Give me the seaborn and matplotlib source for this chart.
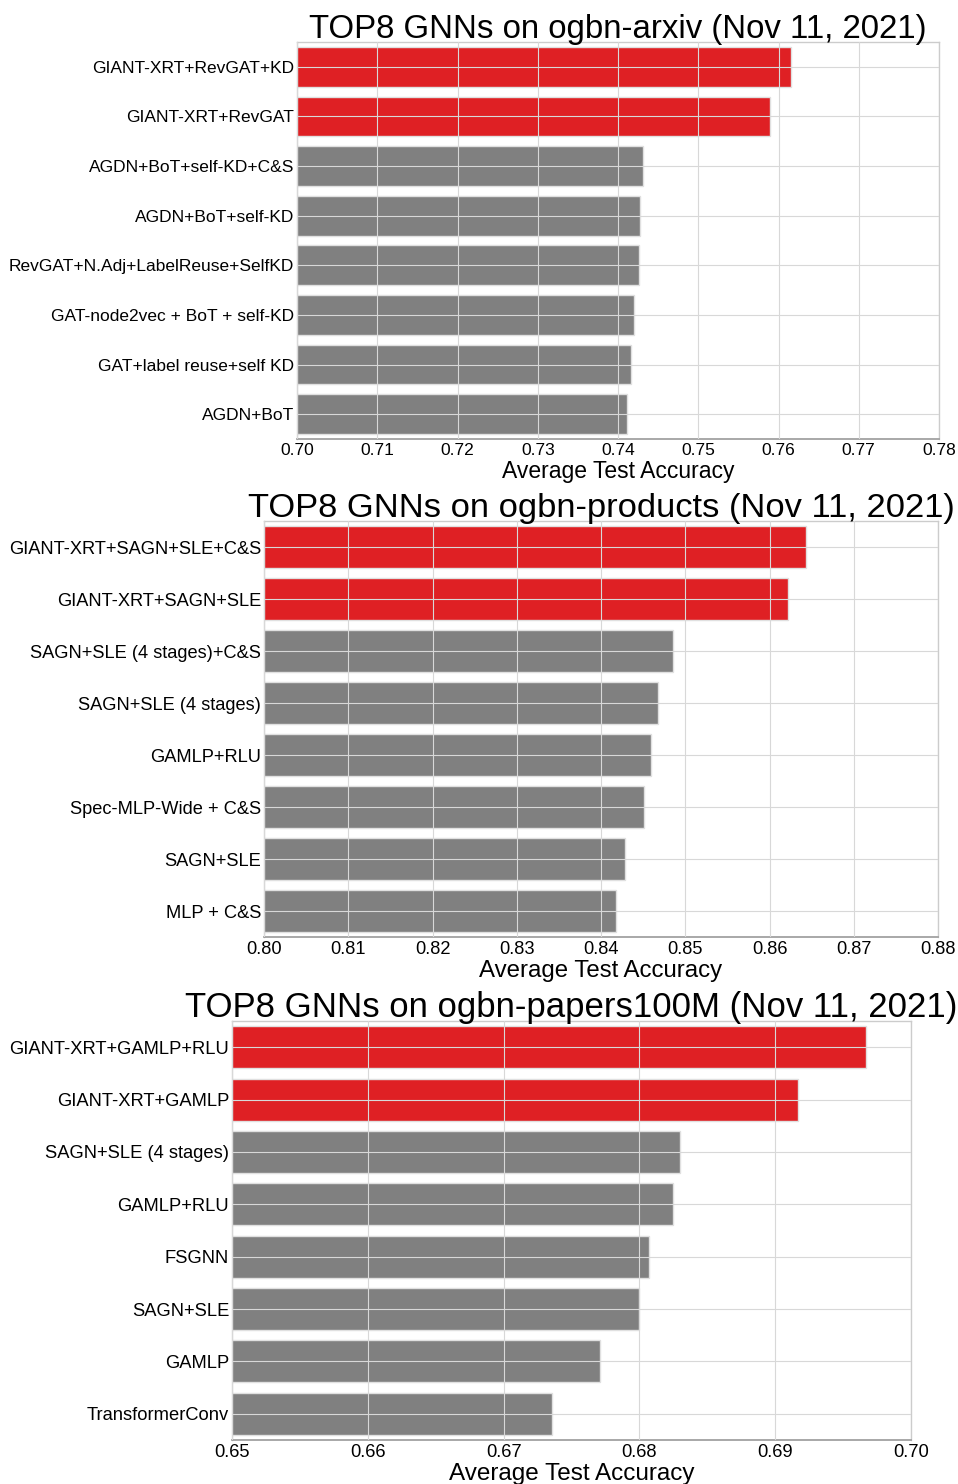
import matplotlib
matplotlib.use("Agg")
import matplotlib.pyplot as plt
import seaborn as sns
import pandas as pd

# ---- Data ----
arxiv_models = ["GIANT-XRT+RevGAT+KD", "GIANT-XRT+RevGAT", "AGDN+BoT+self-KD+C&S",
                "AGDN+BoT+self-KD", "RevGAT+N.Adj+LabelReuse+SelfKD",
                "GAT-node2vec + BoT + self-KD", "GAT+label reuse+self KD", "AGDN+BoT"]
arxiv_acc = [0.7615, 0.7590, 0.7431, 0.7428, 0.7426, 0.7420, 0.7416, 0.7411]

products_models = ["GIANT-XRT+SAGN+SLE+C&S", "GIANT-XRT+SAGN+SLE", "SAGN+SLE (4 stages)+C&S",
                   "SAGN+SLE (4 stages)", "GAMLP+RLU", "Spec-MLP-Wide + C&S",
                   "SAGN+SLE", "MLP + C&S"]
products_acc = [0.8643, 0.8622, 0.8485, 0.8468, 0.8459, 0.8451, 0.8428, 0.8418]

papers_models = ["GIANT-XRT+GAMLP+RLU", "GIANT-XRT+GAMLP", "SAGN+SLE (4 stages)",
                 "GAMLP+RLU", "FSGNN", "SAGN+SLE", "GAMLP", "TransformerConv"]
papers_acc = [0.6967, 0.6917, 0.6830, 0.6825, 0.6807, 0.6800, 0.6771, 0.6736]

highlight = [True, True, False, False, False, False, False, False]

# title, labels, values, x range, title size, text scale
panels = [
    ("TOP8 GNNs on ogbn-arxiv (Nov 11, 2021)", arxiv_models, arxiv_acc, (0.70, 0.78), 23.8, 1.0),
    ("TOP8 GNNs on ogbn-products (Nov 11, 2021)", products_models, products_acc, (0.80, 0.88), 24.8, 1.05),
    ("TOP8 GNNs on ogbn-papers100M (Nov 11, 2021)", papers_models, papers_acc, (0.65, 0.70), 25.0, 1.06),
]

# axes boxes in pixels: left, top, right, bottom
boxes = [(297, 42, 939, 439), (264, 521, 938, 937), (232, 1021, 911, 1440)]

sns.set_theme(style="whitegrid")
plt.rcParams["font.family"] = ["Liberation Sans", "DejaVu Sans"]
plt.rcParams["text.color"] = "black"
plt.rcParams["axes.labelcolor"] = "black"

W, H = 958, 1484
fig = plt.figure(figsize=(W / 100, H / 100), dpi=100)

RED = "#df2024"
GRAY = "#808080"

for (title, models, acc, xlim, tsize, s), (l, t, r, b) in zip(panels, boxes):
    ax = fig.add_axes([l / W, 1 - b / H, (r - l) / W, (b - t) / H])
    df = pd.DataFrame({"Model": models, "Accuracy": acc,
                       "group": ["ours" if h else "other" for h in highlight]})
    sns.barplot(data=df, x="Accuracy", y="Model", hue="group",
                palette={"ours": RED, "other": GRAY}, dodge=False, legend=False,
                width=0.8, saturation=1, edgecolor="#e0e0e0", linewidth=1, ax=ax)
    ax.set_xlim(*xlim)
    n = round((xlim[1] - xlim[0]) / 0.01)
    ticks = [xlim[0] + i * 0.01 for i in range(n + 1)]
    ax.set_xticks(ticks)
    ax.set_xticklabels([f"{v:.2f}" for v in ticks])
    ax.set_axisbelow(False)
    ax.grid(True, color="#d8d8d8", linewidth=0.8)
    ax.tick_params(axis="both", labelsize=12.5 * s, length=0, colors="black")
    ax.tick_params(axis="y", pad=2)
    ax.tick_params(axis="x", pad=3)
    ax.set_xlabel("Average Test Accuracy", fontsize=16.5 * s, labelpad=1)
    ax.set_ylabel("")
    ax.set_title(title, fontsize=tsize, pad=3, color="black")
    for side in ["top", "right", "left"]:
        ax.spines[side].set_color("#cccccc")
        ax.spines[side].set_linewidth(1)
    ax.spines["bottom"].set_color("#999999")
    ax.spines["bottom"].set_linewidth(1.2)

fig.savefig("out.png", dpi=100)
